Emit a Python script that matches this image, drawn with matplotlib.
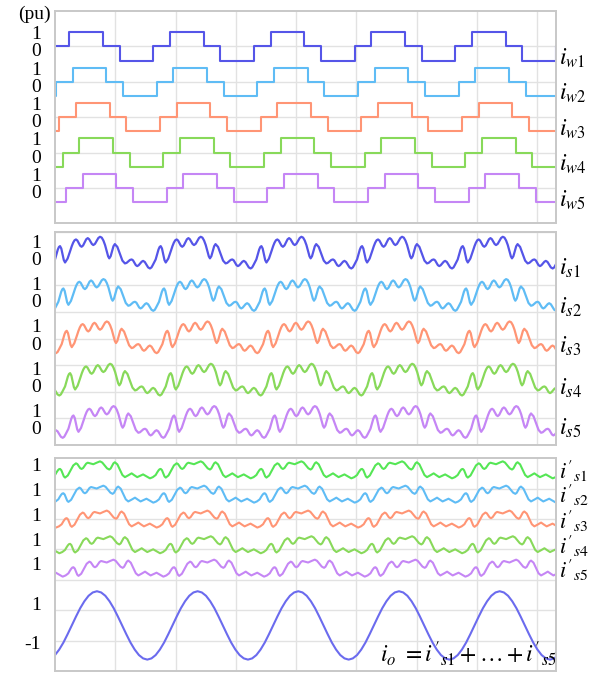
import numpy as np
import matplotlib.pyplot as plt

plt.rcParams['mathtext.fontset'] = 'stix'
plt.rcParams['font.family'] = ['Liberation Serif', 'DejaVu Serif']

# ---------------------------------------------------------------
# data (time in ms, one cycle = T, angles in degrees of one cycle)
# ---------------------------------------------------------------
T = 16.7
t_end = 83.1
n_cycles = 6

# winding currents i_w: switching angles and the level after each switch
w_switch_deg = [51, 171, 231, 351]
w_levels = [1, 0, -1, 0]
shift_deg = [0, 12, 24, 36, 48]          # phase shift of windings 1..5

# i_s1 over one cycle (the others are the same shape, shifted)
is_deg = [0, 6, 10, 14, 18, 22.5, 27, 31.5, 36, 45, 50, 55, 60, 65, 70, 75,
          80, 85, 90, 95, 100.5, 106, 111.5, 117, 122, 127, 132, 137, 143,
          149, 155, 161, 167, 173, 179, 185, 190, 194, 199, 204, 209, 214,
          223, 232, 241, 250, 256, 262, 268, 274, 279, 284, 289, 294, 299,
          304.5, 310, 315, 321, 327, 333, 339.5, 345, 350, 355]
is_val = [-0.06, 0.39, 0.68, 0.87, 0.94, 0.76, 0.33, -0.11, -0.29, 0.0, 0.3,
          0.62, 0.94, 1.2, 1.38, 1.44, 1.36, 1.17, 0.97, 0.89, 0.99, 1.22,
          1.45, 1.54, 1.46, 1.28, 1.10, 1.02, 1.11, 1.33, 1.55, 1.64, 1.58,
          1.36, 1.02, 0.55, 0.17, 0.02, 0.18, 0.56, 0.93, 1.09, 0.88, 0.37,
          -0.15, -0.36, -0.32, -0.21, -0.10, -0.06, -0.13, -0.31, -0.49,
          -0.56, -0.50, -0.37, -0.23, -0.17, -0.25, -0.46, -0.66, -0.74,
          -0.66, -0.47, -0.26]

# i's1 over one cycle
isp_deg = [0, 5, 10, 14, 18, 22.5, 27, 31.5, 36, 45.75, 55.5, 65.25, 75,
           80, 85, 90, 95, 100.5, 106, 111.5, 117, 127, 137, 149, 161, 169,
           177.5, 186, 194, 199, 204, 209, 214, 223, 232, 241, 250, 262,
           274, 284, 294, 304.5, 315, 327, 339.5, 350]
isp_val = [-0.66, -0.50, -0.36, -0.28, -0.26, -0.34, -0.55, -0.75, -0.83,
           -0.69, -0.36, -0.03, 0.11, 0.06, -0.08, -0.21, -0.26, -0.20,
           -0.06, 0.09, 0.15, 0.10, 0.05, 0.15, 0.24, 0.16, -0.03, -0.22,
           -0.30, -0.23, -0.06, 0.11, 0.18, 0.04, -0.31, -0.66, -0.80,
           -0.68, -0.55, -0.68, -0.80, -0.71, -0.62, -0.75, -0.88, -0.80]

# output current i_o over one cycle
io_deg = list(range(0, 360, 15))
io_val = [-1.95, -1.59, -1.13, -0.58, 0.0, 0.58, 1.13, 1.59, 1.95, 2.17,
          2.25, 2.17, 1.95, 1.59, 1.13, 0.58, 0.0, -0.58, -1.13, -1.59,
          -1.95, -2.17, -2.25, -2.17]

colors_w = ['#5555e8', '#5fbcf5', '#ff9575', '#88d95a', '#c586f5']
colors_sp = ['#55e655', '#5fbcf5', '#ff9575', '#88d95a', '#c586f5']
color_io = '#6b6bee'

w_names = [r'$i_{w%d}$' % k for k in range(1, 6)]
s_names = [r'$i_{s%d}$' % k for k in range(1, 6)]
sp_names = [r"$i'_{s%d}$" % k for k in range(1, 6)]


def tile(deg, val, shift):
    deg = np.asarray(deg, float)
    ph = np.concatenate([deg + 360 * k for k in range(-1, n_cycles)]) + shift
    v = np.tile(np.asarray(val, float), n_cycles + 1)
    return ph / 360 * T, v


def steps(shift):
    sw = np.asarray(w_switch_deg, float)
    ph = np.concatenate([sw + 360 * k for k in range(-1, n_cycles)]) + shift
    return ph / 360 * T, np.tile(w_levels, n_cycles + 1)


fig = plt.figure(figsize=(5.99, 6.73), dpi=100)
left, width = 55 / 599, 501 / 599
ax1 = fig.add_axes([left, 1 - 223.5 / 673, width, 212.5 / 673])
ax2 = fig.add_axes([left, 1 - 445 / 673, width, 213 / 673])
ax3 = fig.add_axes([left, 1 - 671 / 673, width, 212.7 / 673])


def style(ax, ylim, grid_y, ticks, labels):
    ax.set_xlim(0, t_end)
    ax.set_ylim(*ylim)
    ax.set_xticks(np.arange(10, t_end, 10))
    ax.set_yticks(grid_y, minor=True)
    ax.set_yticks(ticks)
    ax.set_yticklabels(labels)
    ax.tick_params(axis='both', which='both', length=0)
    ax.tick_params(axis='x', labelbottom=False)
    ax.tick_params(axis='y', pad=10, labelsize=14)
    ax.grid(True, axis='x', color='#e2e2e2', lw=1)
    ax.grid(True, axis='y', which='minor', color='#e2e2e2', lw=1)
    for s in ax.spines.values():
        s.set_color('#c8c8c8')
        s.set_linewidth(1.4)


# ---- panel 1: winding currents
w_off = [0, -2.5, -5, -7.5, -10]
for k in range(5):
    t, lv = steps(shift_deg[k])
    ax1.step(t, lv + w_off[k], where='post', color=colors_w[k], lw=1.5)
    ax1.text(1.006, w_off[k] - 0.84, w_names[k], transform=ax1.get_yaxis_transform(),
             fontsize=17, va='center', ha='left')
style(ax1, (-12.5, 2.5), w_off,
      [o + d for o in w_off for d in (0.97, -0.25)], ['1', '0'] * 5)
fig.text(34 / 599, 1 - 14 / 673, '(pu)', fontsize=14, ha='center', va='center')

# ---- panel 2: i_s
s_off = [0, -3.18, -6.36, -9.54, -12.72]
s_lab_y = [-0.71, -3.64, -6.62, -9.75, -12.76]
for k in range(5):
    t, v = tile(is_deg, is_val, shift_deg[k])
    ax2.plot(t, v + s_off[k], color=colors_w[k], lw=1.6)
    ax2.text(1.006, s_lab_y[k], s_names[k], transform=ax2.get_yaxis_transform(),
             fontsize=17, va='center', ha='left')
style(ax2, (-14, 2), np.arange(-14, 2.1, 2),
      [o + d for o in s_off for d in (1.3, 0.0)], ['1', '0'] * 5)

# ---- panel 3: i's and i_o
sp_off = [10.56, 8.96, 7.32, 5.63, 4.09]
sp_lab_y = [10.12, 8.53, 6.83, 5.21, 3.6]
for k in range(5):
    t, v = tile(isp_deg, isp_val, shift_deg[k])
    ax3.plot(t, v + sp_off[k], color=colors_sp[k], lw=1.5)
    ax3.text(1.006, sp_lab_y[k], sp_names[k], transform=ax3.get_yaxis_transform(),
             fontsize=16, va='center', ha='left')
t, v = tile(io_deg, io_val, 0)
ax3.plot(t, v, color=color_io, lw=1.5)
ax3.text(53.9, -1.87, r"$i_o$ $=i'_{s1}+\ldots+i'_{s5}$", fontsize=17,
         va='center', ha='left', zorder=5)
style(ax3, (-3, 11), np.arange(-1, 10, 2),
      sp_off + [1.41, -1.13], ['1'] * 5 + ['1', '-1'])

fig.savefig('out.png', dpi=100)
